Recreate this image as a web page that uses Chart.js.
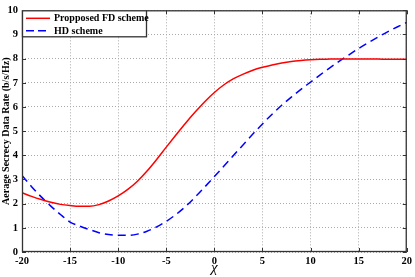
<!DOCTYPE html>
<html>
<head>
<meta charset="utf-8">
<script src="https://cdn.jsdelivr.net/npm/chart.js@4/dist/chart.umd.min.js"></script>
<style>
  html, body { margin: 0; padding: 0; background: #fff; }
  #wrap { width: 415px; height: 277px; position: relative; }
</style>
</head>
<body>
<div id="wrap"><canvas id="chart"></canvas></div>
<script>
// x values (chi)
const xValues = [-20,-19,-18,-17,-16,-15,-14,-13,-12,-11,-10,-9,-8,-7,-6,-5,-4,-3,-2,-1,0,
                 1,2,3,4,5,6,7,8,9,10,11,12,13,14,15,16,17,18,19,20];
// proposed FD scheme
const fdRate = [2.45,2.30,2.17,2.06,1.97,1.92,1.89,1.89,1.96,2.11,2.32,2.59,2.93,3.35,3.83,4.34,4.84,5.33,5.79,6.22,6.60,
                6.92,7.17,7.36,7.52,7.64,7.74,7.82,7.88,7.92,7.95,7.97,7.98,7.99,7.99,7.99,7.98,7.98,7.97,7.97,7.97];
// HD scheme
const hdRate = [3.17,2.70,2.28,1.90,1.55,1.24,1.07,0.93,0.80,0.72,0.69,0.69,0.74,0.86,1.04,1.27,1.55,1.88,2.27,2.69,3.12,
                3.56,4.00,4.44,4.88,5.30,5.70,6.07,6.41,6.73,7.03,7.33,7.62,7.90,8.16,8.42,8.66,8.89,9.11,9.31,9.50];
const seriesNames = ['Propposed FD scheme', 'HD scheme'];
const xTicks = [-20,-15,-10,-5,0,5,10,15,20];
const yTicks = [0,1,2,3,4,5,6,7,8,9,10];

const serif = '"Liberation Serif", "Times New Roman", serif';

const framePlugin = {
    id: 'frame',
    afterDraw(chart) {
        const ctx = chart.ctx, a = chart.chartArea;
        const xs = chart.scales.x, ys = chart.scales.y;
        ctx.save();
        ctx.strokeStyle = '#333';
        ctx.lineWidth = 1.3;
        ctx.setLineDash([]);
        ctx.strokeRect(a.left + 0.5, a.top + 0.5, a.right - a.left - 1, a.bottom - a.top - 1);
        ctx.lineWidth = 1;
        ctx.beginPath();
        xTicks.forEach(v => {
            const px = Math.round(xs.getPixelForValue(v)) + 0.5;
            ctx.moveTo(px, a.bottom); ctx.lineTo(px, a.bottom - 4);
            ctx.moveTo(px, a.top); ctx.lineTo(px, a.top + 4);
        });
        yTicks.forEach(v => {
            const py = Math.round(ys.getPixelForValue(v)) + 0.5;
            ctx.moveTo(a.left, py); ctx.lineTo(a.left + 4, py);
            ctx.moveTo(a.right, py); ctx.lineTo(a.right - 4, py);
        });
        ctx.stroke();

        // legend box
        const lx = a.left, ly = a.top, lw = 124, lh = 26;
        ctx.fillStyle = '#fff';
        ctx.fillRect(lx, ly, lw, lh);
        ctx.strokeStyle = '#333';
        ctx.lineWidth = 1.3;
        ctx.strokeRect(lx + 0.5, ly + 0.5, lw, lh);
        const rows = [
            { name: seriesNames[0], color: '#ff0000', dash: [] },
            { name: seriesNames[1], color: '#0000ff', dash: [8, 4] }
        ];
        ctx.font = 'bold 10px ' + serif;
        ctx.textBaseline = 'middle';
        rows.forEach((r, i) => {
            const y = ly + 8 + i * 12.5;
            ctx.strokeStyle = r.color;
            ctx.lineWidth = 1.5;
            ctx.setLineDash(r.dash);
            ctx.beginPath();
            ctx.moveTo(lx + 4, y); ctx.lineTo(lx + 28, y);
            ctx.stroke();
            ctx.fillStyle = '#000';
            ctx.fillText(r.name, lx + 32, y + 0.5);
        });
        ctx.restore();
    }
};

new Chart(document.getElementById('chart'), {
    type: 'line',
    data: {
        datasets: [{
            label: seriesNames[0],
            data: xValues.map((x, i) => ({ x: x, y: fdRate[i] })),
            borderColor: '#ff0000',
            borderWidth: 1.5,
            pointRadius: 0,
            cubicInterpolationMode: 'monotone'
        }, {
            label: seriesNames[1],
            data: xValues.map((x, i) => ({ x: x, y: hdRate[i] })),
            borderColor: '#0000ff',
            borderWidth: 1.5,
            borderDash: [8, 5],
            pointRadius: 0,
            cubicInterpolationMode: 'monotone'
        }]
    },
    options: {
        responsive: true,
        maintainAspectRatio: false,
        animation: false,
        layout: { padding: { left: 0, right: 8, top: 4, bottom: 0 } },
        plugins: { legend: { display: false }, tooltip: { enabled: false } },
        scales: {
            x: {
                type: 'linear', min: -20, max: 20,
                afterBuildTicks: s => { s.ticks = xTicks.map(v => ({ value: v })); },
                afterFit: s => { s.height = 25; },
                grid: { color: '#aaa', lineWidth: 1, drawTicks: false },
                border: { display: false, dash: [1, 2] },
                ticks: { color: '#000', font: { family: serif, weight: 'bold', size: 10.5 }, padding: 3, maxRotation: 0 },
                title: { display: true, text: 'χ', color: '#000', font: { family: serif, style: 'italic', size: 15 }, padding: { top: -4, bottom: 0 } }
            },
            y: {
                min: 0, max: 10,
                afterBuildTicks: s => { s.ticks = yTicks.map(v => ({ value: v })); },
                afterFit: s => { s.width = 22; },
                grid: { color: '#aaa', lineWidth: 1, drawTicks: false },
                border: { display: false, dash: [1, 2] },
                ticks: { color: '#000', font: { family: serif, weight: 'bold', size: 10.5 }, padding: 4 },
                title: { display: true, text: 'Aerage Secrecy Data Rate (b/s/Hz)', color: '#000', font: { family: serif, weight: 'bold', size: 10 }, padding: 0 }
            }
        }
    },
    plugins: [framePlugin]
});
</script>
</body>
</html>
